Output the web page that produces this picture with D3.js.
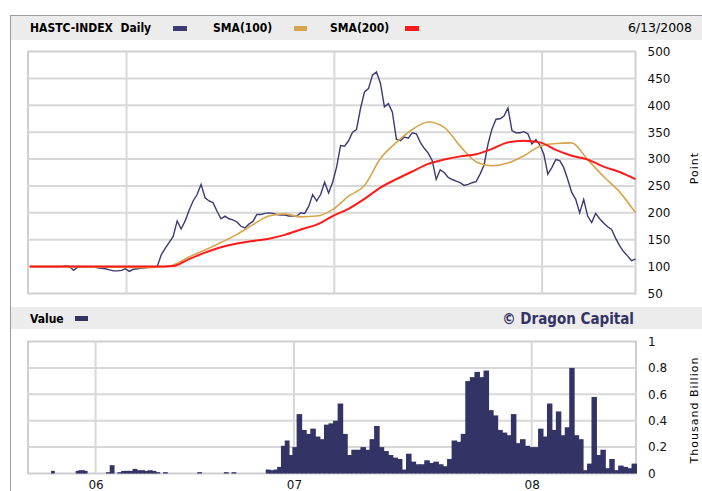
<!DOCTYPE html>
<html>
<head>
<meta charset="utf-8">
<script src="https://cdn.jsdelivr.net/npm/d3@7"></script>
<style>
body { margin: 0; background: #fff; }
svg text { font-family: "DejaVu Sans", Verdana, sans-serif; }
</style>
</head>
<body>
<div id="chart-area"></div>
<script>
// weekly (friday) closes of the index
const price = [
    100,100,100,100,100,100,100,100,100,101,
    100,93,99,100,99,100,99,98,97,96,
    94,92,92,93,96,91,95,96,97,98,
    99,100,100,122,134,145,156,185,170,185,
    205,222,234,253,228,222,219,203,189,194,
    189,187,183,175,172,179,184,197,197,199,
    200,199,197,196,196,194,194,194,200,199,
    212,234,222,234,257,237,257,285,325,324,
    334,350,355,394,425,431,456,462,441,397,
    403,387,337,334,341,339,349,347,331,320,
    311,297,262,280,275,266,262,259,256,251,
    253,256,258,272,289,328,356,374,375,380,
    395,353,349,349,351,347,328,336,326,309,
    272,284,299,297,284,262,238,225,200,225,
    194,182,199,189,181,174,169,153,139,128,
    120,111,114
]

// traded value per week, thousand billion
const volume = [
    0,0,0,0,0,0,0,0,0,0.02,
    0,0,0,0,0,0,0,0,0.02,0.025,
    0.025,0.02,0,0,0,0,0,0,0.01,0.063,
    0,0.01,0.02,0.02,0.02,0.035,0.025,0.025,0.02,0.025,
    0.02,0.01,0,0.01,0,0,0,0,0,0,
    0,0,0.01,0,0,0,0,0,0,0.01,
    0,0.01,0,0,0,0,0,0,0,0,
    0.03,0.025,0.03,0.05,0.21,0.25,0.14,0.2,0.45,0.33,
    0.3,0.34,0.28,0.26,0.37,0.38,0.4,0.53,0.3,0.14,
    0.18,0.18,0.2,0.18,0.26,0.36,0.2,0.17,0.14,0.12,
    0.11,0.03,0.15,0.09,0.07,0.07,0.1,0.08,0.09,0.07,
    0.055,0.11,0.25,0.24,0.3,0.7,0.73,0.77,0.73,0.78,
    0.48,0.44,0.33,0.31,0.29,0.45,0.23,0.26,0.21,0.2,
    0.2,0.34,0.28,0.53,0.33,0.47,0.29,0.35,0.8,0.29,
    0.26,0.025,0.075,0.58,0.14,0.18,0.04,0.11,0.025,0.06,
    0.05,0.04,0.075
]

// moving averages, every 4th week
const sma100 = [
    100,100,100,100,99,99,99,98,99,103,
    118,131,145,160,178,194,198,192.5,194,206,
    231,251,301,331,355,369,359,324,295,287.5,
    292.5,306,324,329,330,299,267.5,239,200
]
const sma200 = [
    100,100,100,100,100,100,100,100,100,101,
    114,126,136,143,147.5,152,159,169,178,194,
    207.5,226,247,262.5,277,291,299,305,309,319,
    331,334,331,317,306,299,286,276,262.5
]

const pointTicks = [50, 100, 150, 200, 250, 300, 350, 400, 450, 500]
const valueTicks = [0, 0.2, 0.4, 0.6, 0.8, 1]
const yearTicks = [new Date(2006, 0, 1), new Date(2007, 0, 1), new Date(2008, 0, 1)]

const weeks = d3.timeFriday.range(new Date(2005, 6, 15), new Date(2008, 5, 14))
const smaWeeks = weeks.filter(function(d, i){ return i % 4 === 0 })

const startDate = new Date(2005, 6, 12), endDate = new Date(2008, 5, 13)

const W = 702, H = 491
const main = { left: 28, right: 635.5, top: 51.5, bottom: 293.5 }
const vol = { left: 28, right: 636, top: 341.5, bottom: 473.5 }

const svg = d3.select("#chart-area").append("svg")
    .attr("width", W)
    .attr("height", H)

// outer frame + title bars
svg.append("rect").attr("x", 10).attr("y", 15).attr("width", W).attr("height", 25).attr("fill", "#ececec")
svg.append("rect").attr("x", 10).attr("y", 307).attr("width", W).attr("height", 22).attr("fill", "#ececec")
svg.append("line").attr("x1", 10.5).attr("x2", 10.5).attr("y1", 15).attr("y2", H).attr("stroke", "#9a9a9a")
svg.append("line").attr("x1", 10).attr("x2", W).attr("y1", 15.5).attr("y2", 15.5).attr("stroke", "#9a9a9a")

const header = svg.append("g").attr("font-size", "12px")
header.append("text").attr("x", 30).attr("y", 32)
    .style("font-family", "'DejaVu Sans Condensed'").attr("font-weight", "bold")
    .style("white-space", "pre").text("HASTC-INDEX  Daily")
header.append("text").attr("x", 213).attr("y", 32)
    .style("font-family", "'DejaVu Sans Condensed'").attr("font-weight", "bold").text("SMA(100)")
header.append("text").attr("x", 330).attr("y", 32)
    .style("font-family", "'DejaVu Sans Condensed'").attr("font-weight", "bold").text("SMA(200)")
header.append("text").attr("x", 692).attr("y", 32).attr("text-anchor", "end")
    .attr("font-size", "12.5px").text("6/13/2008")
header.append("rect").attr("x", 173).attr("y", 26).attr("width", 14).attr("height", 5).attr("fill", "#3b3b72")
header.append("rect").attr("x", 294).attr("y", 26).attr("width", 13).attr("height", 5).attr("fill", "#d6a54c")
header.append("rect").attr("x", 405).attr("y", 26).attr("width", 14).attr("height", 5).attr("fill", "#ff1a1a")

svg.append("text").attr("x", 30).attr("y", 323).attr("font-size", "12px")
    .style("font-family", "'DejaVu Sans Condensed'").attr("font-weight", "bold").text("Value")
svg.append("rect").attr("x", 75).attr("y", 316).attr("width", 13).attr("height", 5).attr("fill", "#333366")
svg.append("text").attr("x", 634).attr("y", 324).attr("text-anchor", "end").attr("font-size", "15px")
    .style("font-family", "'DejaVu Sans Condensed'").attr("font-weight", "bold")
    .attr("fill", "#333366").text("\u00a9 Dragon Capital")

// scales
const x = d3.scaleTime()
    .domain([startDate, endDate])
    .range([main.left, main.right])
const y = d3.scaleLinear()
    .domain([50, 500])
    .range([main.bottom, main.top])

// the value panel is not spaced like the index panel
const xv = d3.scaleTime()
    .domain([startDate, yearTicks[0], yearTicks[1], yearTicks[2], endDate])
    .range([vol.left, 95.6, 294, 531.7, vol.right])
const yv = d3.scaleLinear()
    .domain([0, 1])
    .range([vol.bottom, vol.top])

const gridColor = "#d8d8d8"

// index panel grid
const g1 = svg.append("g")
g1.append("rect").attr("x", main.left).attr("y", main.top)
    .attr("width", main.right - main.left).attr("height", main.bottom - main.top)
    .attr("fill", "#fff").attr("stroke", "#cfcfcf").attr("stroke-width", 2)
g1.selectAll(".hgrid").data(pointTicks.slice(1, -1)).enter().append("line")
    .attr("x1", main.left).attr("x2", main.right)
    .attr("y1", function(d){ return y(d) }).attr("y2", function(d){ return y(d) })
    .attr("stroke", gridColor).attr("stroke-width", 2)
g1.selectAll(".vgrid").data(yearTicks).enter().append("line")
    .attr("x1", function(d){ return x(d) }).attr("x2", function(d){ return x(d) })
    .attr("y1", main.top).attr("y2", main.bottom)
    .attr("stroke", gridColor).attr("stroke-width", 2)

// value panel grid
const g2 = svg.append("g")
g2.append("rect").attr("x", vol.left).attr("y", vol.top)
    .attr("width", vol.right - vol.left).attr("height", vol.bottom - vol.top)
    .attr("fill", "#fff").attr("stroke", "#cfcfcf").attr("stroke-width", 2)
g2.selectAll(".hgrid").data(valueTicks.slice(1, -1)).enter().append("line")
    .attr("x1", vol.left).attr("x2", vol.right)
    .attr("y1", function(d){ return yv(d) }).attr("y2", function(d){ return yv(d) })
    .attr("stroke", gridColor).attr("stroke-width", 2)
g2.selectAll(".vgrid").data(yearTicks).enter().append("line")
    .attr("x1", function(d){ return xv(d) }).attr("x2", function(d){ return xv(d) })
    .attr("y1", vol.top).attr("y2", vol.bottom)
    .attr("stroke", gridColor).attr("stroke-width", 2)

// value bars
g2.selectAll(".bar").data(volume).enter().append("rect")
    .attr("x", function(d, i){ return Math.max(vol.left, xv(d3.timeDay.offset(weeks[i], -7))) })
    .attr("width", function(d, i){
        const x0 = Math.max(vol.left, xv(d3.timeDay.offset(weeks[i], -7)))
        return xv(weeks[i]) - x0 + 1
    })
    .attr("y", function(d){ return yv(d) })
    .attr("height", function(d){ return vol.bottom - yv(d) })
    .attr("fill", "#333366")

// lines
const line = d3.line()
    .x(function(d){ return x(d[0]) })
    .y(function(d){ return y(d[1]) })

g1.append("path")
    .datum(d3.zip(weeks, price))
    .attr("d", line)
    .attr("fill", "none").attr("stroke", "#3b3b72").attr("stroke-width", 1.4)
g1.append("path")
    .datum(d3.zip(smaWeeks, sma100))
    .attr("d", line.curve(d3.curveMonotoneX))
    .attr("fill", "none").attr("stroke", "#d6a54c").attr("stroke-width", 1.6)
g1.append("path")
    .datum(d3.zip(smaWeeks, sma200))
    .attr("d", line.curve(d3.curveMonotoneX))
    .attr("fill", "none").attr("stroke", "#ff1a1a").attr("stroke-width", 2)

// axes
const yAxisCall = d3.axisRight(y).tickValues(pointTicks).tickSize(0).tickPadding(12)
svg.append("g")
    .attr("class", "y axis")
    .attr("transform", "translate(" + main.right + ",0)")
    .call(yAxisCall)

const yvAxisCall = d3.axisRight(yv).tickValues(valueTicks).tickSize(0).tickPadding(12)
    .tickFormat(d3.format("~g"))
svg.append("g")
    .attr("class", "y axis")
    .attr("transform", "translate(" + vol.right + ",0)")
    .call(yvAxisCall)

const xAxisCall = d3.axisBottom(xv).tickValues(yearTicks).tickSize(0).tickPadding(7)
    .tickFormat(d3.timeFormat("%y"))
svg.append("g")
    .attr("class", "x axis")
    .attr("transform", "translate(0," + vol.bottom + ")")
    .call(xAxisCall)

svg.selectAll(".axis .domain").remove()
svg.selectAll(".axis text")
    .attr("font-size", "12px")
    .style("font-family", "'DejaVu Sans', Verdana, sans-serif")
    .attr("fill", "#111")

svg.append("text")
    .attr("transform", "translate(698,168) rotate(-90)")
    .attr("text-anchor", "middle").attr("font-size", "11px")
    .attr("letter-spacing", "1px")
    .text("Point")
svg.append("text")
    .attr("transform", "translate(698,410) rotate(-90)")
    .attr("text-anchor", "middle").attr("font-size", "11px")
    .attr("letter-spacing", "1px")
    .text("Thousand Billion")
</script>
</body>
</html>
